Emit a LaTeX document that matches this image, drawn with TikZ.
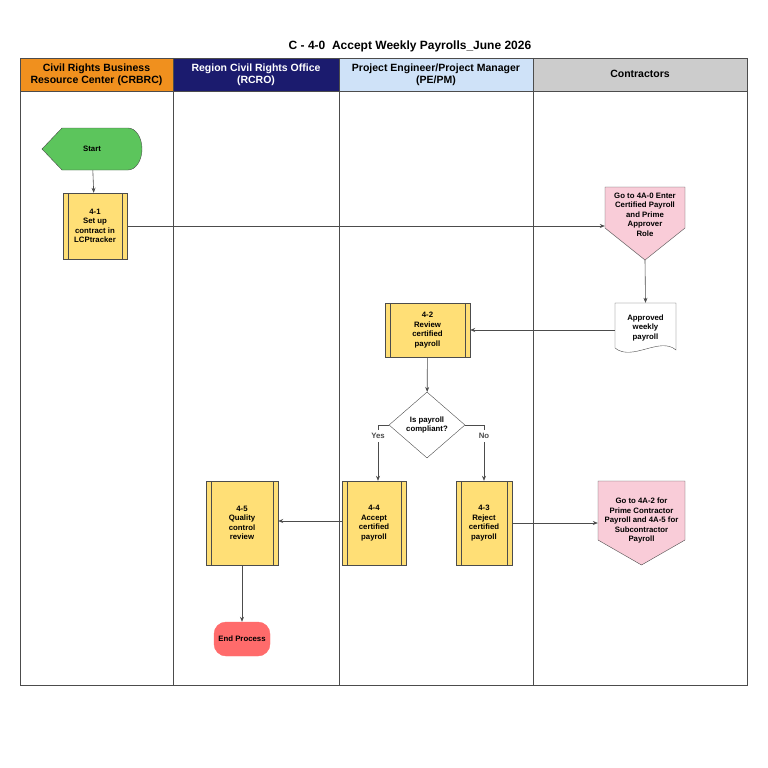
\documentclass[tikz,border=0pt]{standalone}
\usepackage{fontspec}
\setmainfont{Liberation Sans}
\usetikzlibrary{positioning,shapes.geometric,arrows.meta}
\definecolor{hdorange}{HTML}{F0901E}
\definecolor{hdnavy}{HTML}{1B1B6E}
\definecolor{hdblue}{HTML}{CFE2F8}
\definecolor{hdgray}{HTML}{CCCCCC}
\definecolor{procyellow}{HTML}{FFDF76}
\definecolor{offpink}{HTML}{F9CCD8}
\definecolor{startgreen}{HTML}{5CC55C}
\definecolor{endred}{HTML}{FF6B6B}
\tikzset{
  lane/.style={draw=black!70, line width=0.6pt},
  hdtext/.style={font=\fontsize{10.5}{12}\selectfont\bfseries, align=center},
  box/.style={font=\fontsize{7.8}{9.5}\selectfont\bfseries, align=center},
  proc/.style={box, draw=black!70, fill=procyellow, rectangle, inner sep=0pt,
    path picture={\draw[black!70] ([xshift=5pt]path picture bounding box.north west) -- ([xshift=5pt]path picture bounding box.south west)
      ([xshift=-5pt]path picture bounding box.north east) -- ([xshift=-5pt]path picture bounding box.south east);}},
  flow/.style={-{Stealth[length=5pt,width=4pt]}, black!70, line width=0.6pt},
}
\begin{document}
\begin{tikzpicture}[x=1pt,y=-1pt]
\useasboundingbox (0,0) rectangle (768,768);
% title
\node[font=\fontsize{12}{14}\selectfont\bfseries] (title) at (410,46) {C - 4-0\ \ Accept Weekly Payrolls\_June 2026};

% lanes and headers
\fill[hdorange] (20,58) rectangle (173,91);
\fill[hdnavy] (173,58) rectangle (339,91);
\fill[hdblue] (339,58) rectangle (533,91);
\fill[hdgray] (533,58) rectangle (747,91);
\draw[lane] (20,58) rectangle (747,685);
\draw[lane] (20,91) -- (747,91);
\foreach \x in {173,339,533}
  \draw[lane] (\x,58) -- (\x,685);
\node[hdtext] (crbrc) at (96.5,74.5) {Civil Rights Business\\Resource Center (CRBRC)};
\node[hdtext, text=white] (rcro) at (256,74.5) {Region Civil Rights Office\\(RCRO)};
\node[hdtext] (pepm) at (436,74.5) {Project Engineer/Project Manager\\(PE/PM)};
\node[hdtext] (contr) at (640,74) {Contractors};

% start
\draw[black!70, fill=startgreen] (42,149) -- (62,128) -- (128,128) arc (-90:90:14 and 21) -- (62,170) -- cycle;
\node[box, minimum width=80pt, minimum height=42pt] (start) at (92,149) {Start};

% process boxes
\node[proc, minimum width=64pt, minimum height=66pt] (p41) at (95,226) {4-1\\Set up\\contract in\\LCPtracker};
\node[proc, minimum width=85pt, minimum height=54pt] (p42) at (427.5,330) {4-2\\Review\\certified\\payroll};
\node[proc, minimum width=64pt, minimum height=84pt] (p44) at (374,523) {4-4\\Accept\\certified\\payroll};
\node[proc, minimum width=56pt, minimum height=84pt] (p43) at (484,523) {4-3\\Reject\\certified\\payroll};
\node[proc, minimum width=72pt, minimum height=84pt] (p45) at (242,523) {4-5\\Quality\\control\\review};

% off-page connectors
\draw[black!70, fill=offpink] (605,187) -- (685,187) -- (685,228) -- (645,260) -- (605,228) -- cycle;
\node[box, minimum width=80pt, minimum height=73pt, text depth=18pt] (go1) at (645,223.5) {Go to 4A-0 Enter\\Certified Payroll\\and Prime\\Approver\\Role};
\draw[black!70, fill=offpink] (598,481) -- (685,481) -- (685,540) -- (641.5,565) -- (598,540) -- cycle;
\node[box, minimum width=87pt, minimum height=84pt, text depth=6pt] (go2) at (641.5,523) {Go to 4A-2 for\\Prime Contractor\\Payroll and 4A-5 for\\Subcontractor\\Payroll};

% document
\draw[black!70, fill=white] (615,303) -- (676,303) -- (676,350) .. controls (660,336) and (632,362) .. (615,348) -- cycle;
\node[box, minimum width=61pt, minimum height=49pt] (doc) at (645.5,327.5) {Approved\\weekly\\payroll};

% decision
\node[box, diamond, draw=black!70, fill=white, minimum width=76pt, minimum height=66pt, inner sep=0pt, aspect=1.15] (dec) at (427,425) {Is payroll\\compliant?};

% end
\node[box, draw=endred, fill=endred, rounded corners=12pt, minimum width=56pt, minimum height=34pt] (end) at (242,639) {End Process};

% connectors
\draw[flow] (start) -- (p41);
\draw[flow] (p41.east) -- (go1.west |- p41.east);
\draw[flow] (go1.south) -- (doc.north);
\draw[flow] (doc.west |- p42.east) -- (p42.east);
\draw[flow] (p42) -- (dec);
\draw[flow] (dec.west) -| node[box, pos=0.6, fill=white] {Yes} (p44.north -| 378,0);
\draw[flow] (dec.east) -| node[box, pos=0.6, fill=white] {No} (p43.north);
\draw[flow] (p43.east) -- (go2.west |- p43.east);
\draw[flow] (p44.west |- 0,521) -- (p45.east |- 0,521);
\draw[flow] (p45) -- (end);
\end{tikzpicture}
\end{document}
